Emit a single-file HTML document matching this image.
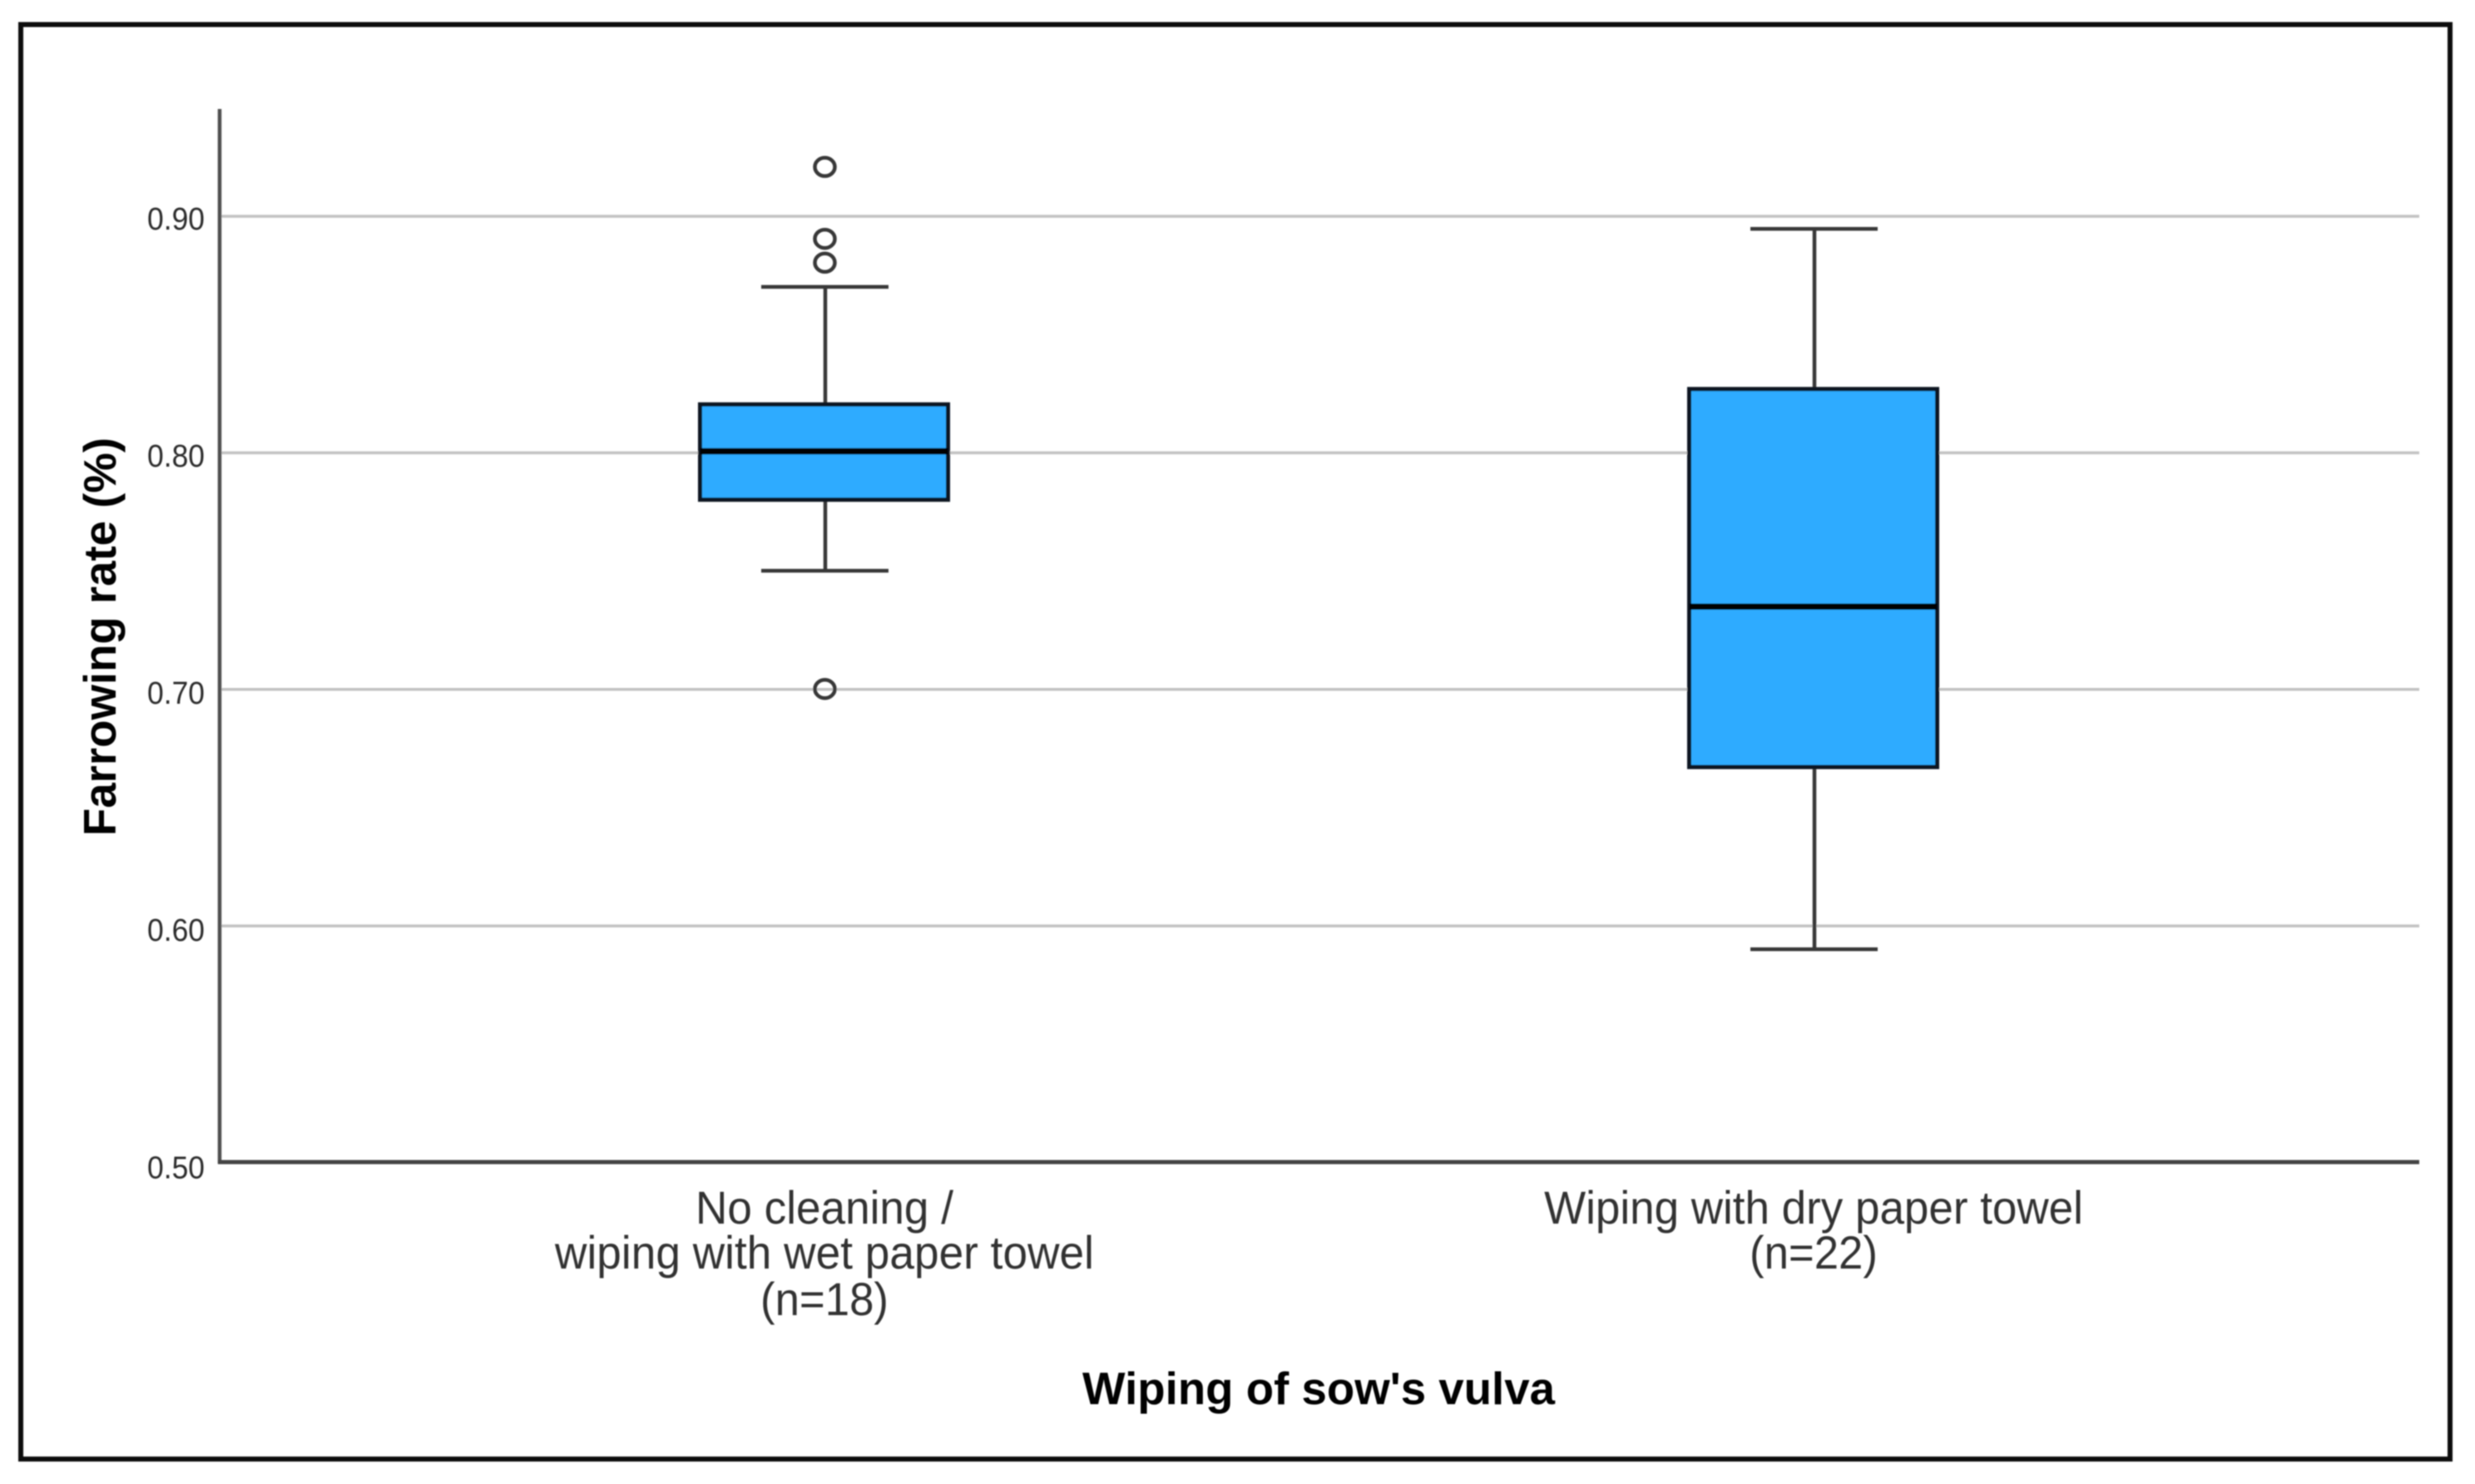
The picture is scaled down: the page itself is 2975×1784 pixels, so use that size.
<!DOCTYPE html>
<html lang="en">
<head>
<meta charset="utf-8">
<title>Farrowing rate by wiping of sow's vulva</title>
<style>
  html, body { margin: 0; padding: 0; background: #fff; }
  svg { display: block; }
  text { font-family: "Liberation Sans", Arial, sans-serif; }
</style>
</head>
<body>
<svg id="chart" xmlns="http://www.w3.org/2000/svg" width="2975" height="1784" viewBox="0 0 2975 1784">
  <defs>
    <filter id="soft" x="0" y="0" width="100%" height="100%" filterUnits="userSpaceOnUse" primitiveUnits="userSpaceOnUse">
      <feGaussianBlur stdDeviation="0.9"/>
    </filter>
  </defs>
  <rect x="0" y="0" width="2975" height="1784" fill="#ffffff"/>
  <g id="root" filter="url(#soft)">
    <rect x="25" y="29.5" width="2920" height="1724.5" fill="none" stroke="#111111" stroke-width="6"/>
    <g id="grid"></g>
    <g id="boxes"></g>
    <line x1="264" y1="131" x2="264" y2="1399" stroke="#505050" stroke-width="4.5"/>
    <line x1="262" y1="1397" x2="2908" y2="1397" stroke="#444444" stroke-width="5"/>
    <g id="yticks"></g>
    <g id="xticks"></g>
    <text transform="translate(139,1005) rotate(-90)" font-size="55" font-weight="bold" fill="#000" textLength="479" lengthAdjust="spacingAndGlyphs">Farrowing rate (%)</text>
    <text x="1301" y="1688" font-size="55" font-weight="bold" fill="#000" textLength="568" lengthAdjust="spacingAndGlyphs">Wiping of sow's vulva</text>
  </g>
</svg>
<script>
// Chart data
const categoryLines = [
  ["No cleaning /", "wiping with wet paper towel", "(n=18)"],
  ["Wiping with dry paper towel", "(n=22)"]
];
const whiskerLow  = [0.75, 0.59];
const quartile1   = [0.78, 0.667];
const medians     = [0.8005, 0.7348];
const quartile3   = [0.8203, 0.8268];
const whiskerHigh = [0.87, 0.8945];
const outliers    = [[0.9207, 0.8903, 0.8802, 0.70], []];
const yTickValues = [0.50, 0.60, 0.70, 0.80, 0.90];
const yGridValues = [0.60, 0.70, 0.80, 0.90];

// Axis functions
function yScale(v) { return 1397 - (v - 0.5) * 2843.75; }
function xScale(i) { return 991 + i * 1189; }

const NS = 'http://www.w3.org/2000/svg';
function mk(tag, parent, attrs) {
  const el = document.createElementNS(NS, tag);
  for (const k in attrs) el.setAttribute(k, attrs[k]);
  parent.appendChild(el);
  return el;
}
const grid = document.getElementById('grid');
const boxes = document.getElementById('boxes');
const yticks = document.getElementById('yticks');
const xticks = document.getElementById('xticks');

yGridValues.forEach(function (v) {
  const l = mk('line', grid, { x1: 266, x2: 2908, y1: yScale(v) + 0.5, y2: yScale(v) + 0.5, stroke: '#c2c2c2', 'stroke-width': 3.5 });
  
  
});

yTickValues.forEach(function (v) {
  const t = mk('text', yticks, { x: 177, y: yScale(v) + 16.5 + (0.9 - v) * 7, 'font-size': 38, fill: '#2c2c2c', textLength: 69, lengthAdjust: 'spacingAndGlyphs' });
  
  
  t.textContent = v.toFixed(2);
});

const lineBaselines = [1471, 1525, 1581];
categoryLines.forEach(function (lines, i) {
  lines.forEach(function (line, j) {
    const t = mk('text', xticks, { x: xScale(i), y: lineBaselines[j], 'font-size': 56, fill: '#333333', 'text-anchor': 'middle' });
    
    
    t.textContent = line;
    const w = t.getComputedTextLength();
    const target = line.length > 20 ? 648 : line.length > 8 ? 310 : 154;
    t.setAttribute('transform', 'translate(' + xScale(i) + ',0) scale(' + (target / w) + ',1) translate(' + (-xScale(i)) + ',0)');
  });
});

medians.forEach(function (m, i) {
  const cx = xScale(i);
  const stemX = cx + 1;

  const stemHi = mk('line', boxes, { x1: stemX, x2: stemX, y1: yScale(whiskerHigh[i]), y2: yScale(quartile3[i]), stroke: '#383838', 'stroke-width': 4.5 });
  
  

  const stemLo = mk('line', boxes, { x1: stemX, x2: stemX, y1: yScale(quartile1[i]), y2: yScale(whiskerLow[i]), stroke: '#383838', 'stroke-width': 4.5 });
  
  

  const capHi = mk('line', boxes, { x1: cx - 76, x2: cx + 77, y1: yScale(whiskerHigh[i]), y2: yScale(whiskerHigh[i]), stroke: '#383838', 'stroke-width': 4.5 });
  
  

  const capLo = mk('line', boxes, { x1: cx - 76, x2: cx + 77, y1: yScale(whiskerLow[i]), y2: yScale(whiskerLow[i]), stroke: '#383838', 'stroke-width': 4.5 });
  
  

  const box = mk('rect', boxes, { x: cx - 149.5, width: 298, y: yScale(quartile3[i]), height: yScale(quartile1[i]) - yScale(quartile3[i]), fill: '#2fabff', stroke: '#0e1822', 'stroke-width': 5 });
  
  

  const med = mk('line', boxes, { x1: cx - 149.5, x2: cx + 148.5, y1: yScale(m), y2: yScale(m), stroke: '#000000', 'stroke-width': 7.5 });
  
  

  outliers[i].forEach(function (v) {
    const c = mk('ellipse', boxes, { cx: cx + 0.5, cy: yScale(v), rx: 12, ry: 11, fill: 'none', stroke: '#383838', 'stroke-width': 4.5 });
    
    
  });
});
</script>
</body>
</html>
